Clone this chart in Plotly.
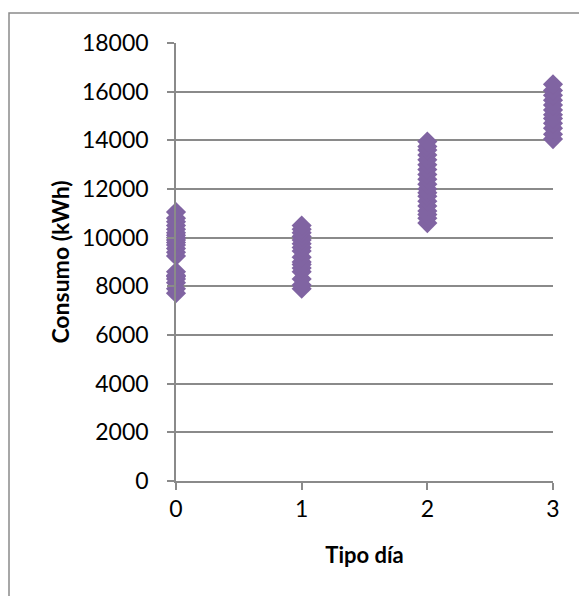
import plotly.graph_objects as go

# Daily consumption grouped by day type
tipo_0 = [7720, 7900, 8150, 8300, 8400, 8450, 8600, 9250, 9400, 9550, 9700,
          9800, 9900, 10000, 10100, 10200, 10350, 10500, 10650, 10800, 11050]
tipo_1 = [7900, 8050, 8300, 8600, 8750, 8900, 9000, 9200, 9450, 9600, 9750,
          9900, 10050, 10200, 10350, 10500]
tipo_2 = [10600, 10800, 10950, 11100, 11300, 11500, 11700, 11850, 12000, 12200,
          12400, 12600, 12800, 13000, 13200, 13400, 13600, 13750, 13950]
tipo_3 = [14050, 14250, 14500, 14700, 14900, 15050, 15250, 15450, 15650, 15850,
          16050, 16300]

groups = [tipo_0, tipo_1, tipo_2, tipo_3]
x_vals = [i for i, g in enumerate(groups) for _ in g]
y_vals = [v for g in groups for v in g]

y_ticks = [0, 2000, 4000, 6000, 8000, 10000, 12000, 14000, 16000, 18000]
x_ticks = [0, 1, 2, 3]

GRID = "#8a8a8a"
FONT = "Lato"

fig = go.Figure(
    go.Scatter(
        x=x_vals,
        y=y_vals,
        mode="markers",
        marker=dict(symbol="diamond", size=15.5, color="#8064A2",
                    line=dict(width=0)),
        cliponaxis=False,
        showlegend=False,
    )
)

fig.update_layout(
    width=579,
    height=596,
    margin=dict(l=176, r=26, t=43, b=115),
    paper_bgcolor="white",
    plot_bgcolor="white",
    font=dict(family=FONT, size=23, color="black"),
    xaxis=dict(
        range=[0, 3],
        tickvals=x_ticks,
        ticktext=[str(t) for t in x_ticks],
        showgrid=False,
        zeroline=False,
        showline=True,
        linecolor=GRID,
        linewidth=1.5,
        ticks="outside",
        ticklen=7,
        tickcolor=GRID,
        tickwidth=1.5,
        title=dict(text="<b>Tipo día</b>", font=dict(size=22), standoff=26),
    ),
    yaxis=dict(
        range=[0, 18000],
        tickvals=y_ticks,
        ticktext=[str(t) for t in y_ticks],
        showgrid=True,
        gridcolor=GRID,
        gridwidth=1.5,
        zeroline=False,
        showline=True,
        linecolor=GRID,
        linewidth=1.5,
        ticks="outside",
        ticklen=7,
        tickcolor=GRID,
        tickwidth=1.5,
        ticklabelstandoff=14,
        title=dict(text="<b>Consumo (kWh)</b>", font=dict(size=23), standoff=6),
    ),
    shapes=[
        dict(
            type="rect",
            xref="paper",
            yref="paper",
            x0=(9 - 176) / 377,
            x1=2,
            y0=-1,
            y1=(481 - 13) / 438,
            line=dict(color=GRID, width=1.5),
            fillcolor="rgba(0,0,0,0)",
            layer="below",
        )
    ],
)

fig.write_html("out.html")
